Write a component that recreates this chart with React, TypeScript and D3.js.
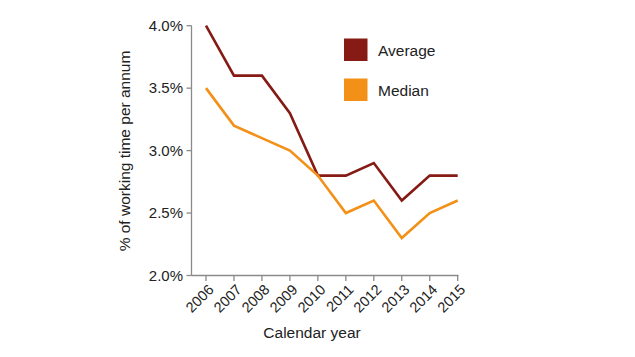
import React from "react";
import * as d3 from "d3";

const years = ["2006", "2007", "2008", "2009", "2010", "2011", "2012", "2013", "2014", "2015"];
const averageValues = [4.0, 3.6, 3.6, 3.3, 2.8, 2.8, 2.9, 2.6, 2.8, 2.8];
const medianValues = [3.5, 3.2, 3.1, 3.0, 2.8, 2.5, 2.6, 2.3, 2.5, 2.6];
const yTicks = [2.0, 2.5, 3.0, 3.5, 4.0];
const seriesNames = ["Average", "Median"];
const seriesColors = ["#861a15", "#f39017"];

export default function App() {
  const W = 635, H = 357;
  const x = d3.scalePoint<string>().domain(years).range([206, 457.7]);
  const y = d3.scaleLinear().domain([2.0, 4.0]).range([275.5, 25.7]);
  const line = d3.line<number>().x((_, i) => x(years[i]) as number).y((d) => y(d));
  const axisColor = "#8a8a8a";
  const font = "Liberation Sans, Arial, sans-serif";
  const series = [averageValues, medianValues];
  return (
    <svg width={W} height={H} style={{ position: "absolute", left: 0, top: 0, background: "#fff" }} fontFamily={font}>
      <line x1={191.5} x2={191.5} y1={25.7} y2={275.5} stroke={axisColor} strokeWidth={1.3} />
      <line x1={191.5} x2={458.5} y1={275.5} y2={275.5} stroke={axisColor} strokeWidth={1.3} />
      {yTicks.map((t) => (
        <g key={t}>
          <line x1={186.5} x2={191.5} y1={y(t)} y2={y(t)} stroke={axisColor} strokeWidth={1.3} />
          <text x={183} y={y(t)} dy="0.35em" textAnchor="end" fontSize={15} fill="#222">
            {t.toFixed(1) + "%"}
          </text>
        </g>
      ))}
      {years.map((yr) => (
        <g key={yr}>
          <line x1={x(yr)} x2={x(yr)} y1={275.5} y2={281} stroke={axisColor} strokeWidth={1.3} />
          <text
            transform={`translate(${(x(yr) as number) + 5},${287}) rotate(-45)`}
            textAnchor="end"
            dy="0.35em"
            fontSize={14.5}
            fill="#222"
          >
            {yr}
          </text>
        </g>
      ))}
      <text x={312} y={338} textAnchor="middle" fontSize={15.5} fill="#222">Calendar year</text>
      <text transform={`translate(130,151) rotate(-90)`} textAnchor="middle" fontSize={15.5} fill="#222">
        % of working time per annum
      </text>
      {series.map((s, i) => (
        <path key={i} d={line(s) || ""} fill="none" stroke={seriesColors[i]} strokeWidth={2.6} strokeLinejoin="miter" />
      ))}
      {seriesNames.map((n, i) => (
        <g key={n}>
          <rect x={344} y={38.5 + i * 40} width={23.5} height={22.5} fill={seriesColors[i]} />
          <text x={378} y={55.5 + i * 40} fontSize={15.5} fill="#222">{n}</text>
        </g>
      ))}
    </svg>
  );
}
